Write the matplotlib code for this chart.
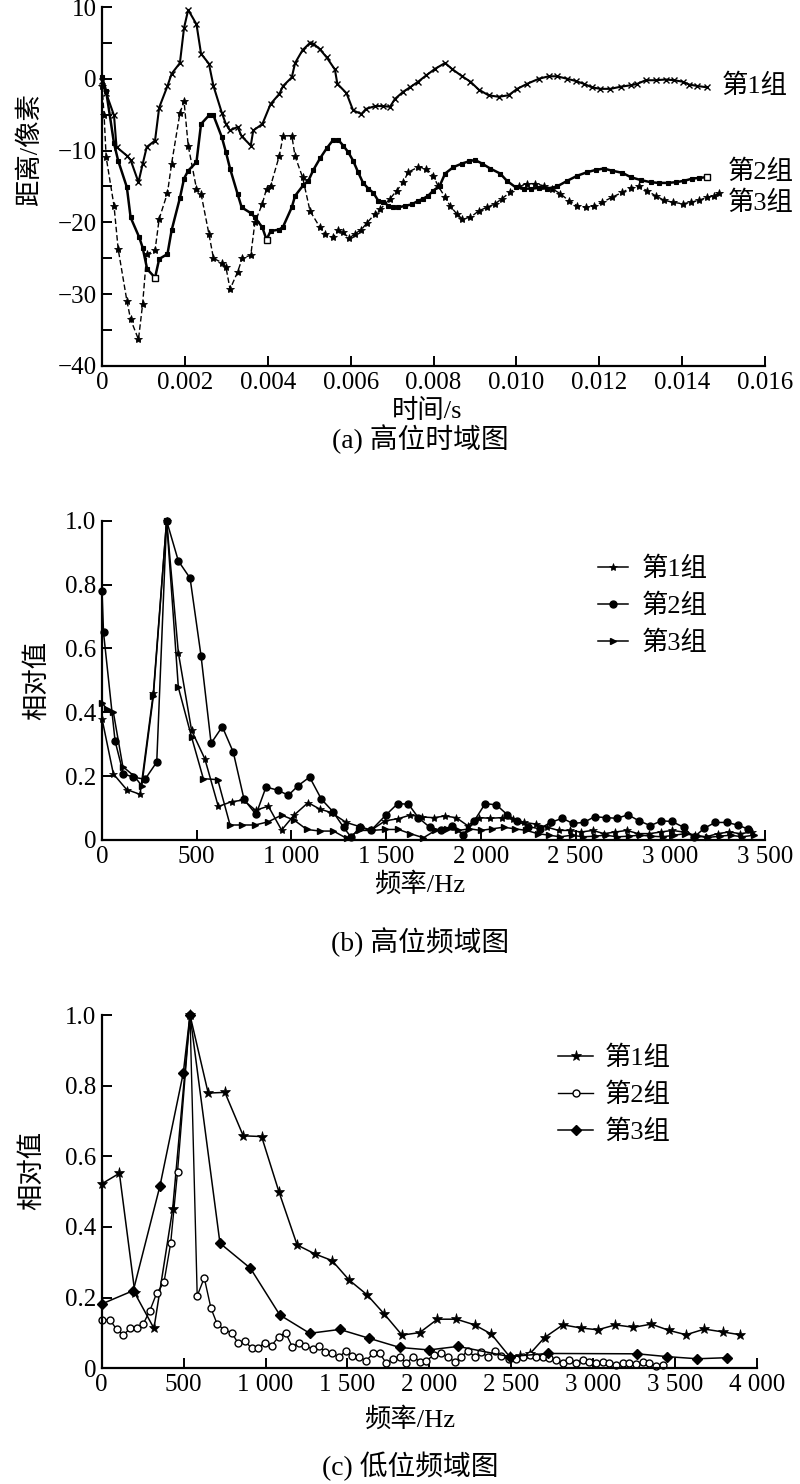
import numpy as np
import matplotlib
matplotlib.use("Agg")
import matplotlib.pyplot as plt
from matplotlib.ticker import FixedLocator, FixedFormatter

plt.rcParams['font.family'] = ['Liberation Serif', 'Noto Sans CJK SC']
plt.rcParams['axes.unicode_minus'] = True

# -----------------------------
# (a) time domain, high position  (t in ms, value in pixels)
# -----------------------------
a1_t = [0, 0.1, 0.29, 0.35, 0.6, 0.69, 0.88, 0.98, 1.08, 1.28,
        1.38, 1.58, 1.68, 1.88, 1.98, 2.08, 2.28, 2.39, 2.58, 2.69,
        2.89, 2.99, 3.09, 3.27, 3.37, 3.59, 3.65, 3.87, 4.07, 4.28,
        4.37, 4.58, 4.66, 4.84, 5.02, 5.10, 5.26, 5.42, 5.62, 5.68,
        5.90, 6.06, 6.26, 6.37, 6.59, 6.79, 6.95, 7.07, 7.27, 7.43,
        7.63, 7.83, 8.04, 8.28, 8.44, 8.69, 8.89, 9.09, 9.33, 9.57,
        9.81, 10.02, 10.26, 10.54, 10.78, 10.98, 11.23, 11.43, 11.63, 11.83,
        12.03, 12.27, 12.52, 12.76, 12.92, 13.12, 13.36, 13.60, 13.81, 14.01,
        14.17, 14.37, 14.61]
a1_v = [-0.3, -2.0, -5.1, -9.5, -10.7, -11.3, -14.4, -11.9, -9.5, -8.6,
        -4.0, -1.0, 0.7, 2.2, 7.1, 9.6, 7.6, 3.5, 2.1, -1.0,
        -4.7, -6.3, -7.2, -6.7, -8.0, -9.3, -7.2, -6.3, -3.5, -2.1,
        -1.0, 0.2, 2.2, 4.0, 5.0, 4.9, 4.1, 3.0, 1.3, -0.7,
        -2.0, -4.4, -4.9, -4.2, -3.8, -3.8, -3.9, -2.8, -1.8, -1.2,
        -0.4, 0.5, 1.4, 2.2, 1.4, 0.35, -0.4, -1.5, -2.3, -2.5,
        -2.3, -1.4, -0.7, 0.0, 0.35, 0.35, 0.0, -0.3, -0.7, -1.2,
        -1.4, -1.4, -1.1, -0.9, -0.7, -0.2, -0.2, -0.1, -0.2, -0.4,
        -0.8, -1.0, -1.2]

a2_t = [0, 0.1, 0.29, 0.39, 0.6, 0.69, 0.9, 0.98, 1.09, 1.28,
        1.38, 1.58, 1.68, 1.88, 1.98, 2.08, 2.28, 2.39, 2.58, 2.69,
        2.89, 2.99, 3.09, 3.27, 3.37, 3.59, 3.69, 3.87, 3.97, 4.07,
        4.28, 4.37, 4.58, 4.66, 4.86, 4.98, 5.10, 5.26, 5.42, 5.58,
        5.70, 5.82, 5.94, 6.06, 6.18, 6.30, 6.43, 6.55, 6.67, 6.79,
        6.91, 7.03, 7.15, 7.31, 7.47, 7.63, 7.75, 7.87, 7.99, 8.15,
        8.28, 8.48, 8.69, 8.85, 9.0, 9.17, 9.37, 9.61, 9.77, 9.98,
        10.18, 10.36, 10.54, 10.74, 10.98, 11.23, 11.47, 11.71, 11.91, 12.11,
        12.31, 12.56, 12.76, 13.0, 13.24, 13.44, 13.65, 13.85, 14.05, 14.25,
        14.41, 14.6]
a2_v = [0.3, -1.7, -9.0, -11.4, -15.1, -19.3, -22.1, -23.5, -26.5, -27.7,
        -25.1, -24.4, -21.1, -16.6, -13.9, -12.8, -11.6, -6.3, -5.1, -5.1,
        -8.1, -10.2, -12.5, -16.0, -17.9, -18.7, -19.3, -20.7, -22.4, -21.2,
        -21.0, -20.6, -17.9, -16.3, -14.8, -14.2, -12.7, -11.1, -9.7, -8.5,
        -8.5, -9.3, -10.2, -11.4, -13.0, -14.5, -15.3, -15.9, -17.0, -17.1,
        -17.7, -17.9, -17.9, -17.7, -17.5, -17.0, -16.7, -16.3, -15.6, -14.9,
        -13.2, -12.3, -11.8, -11.5, -11.3, -11.8, -12.5, -13.2, -14.2, -15.1,
        -15.3, -15.3, -15.2, -15.3, -15.0, -14.2, -13.5, -13.0, -12.7, -12.5,
        -12.8, -13.1, -13.7, -14.1, -14.4, -14.5, -14.5, -14.4, -14.2, -13.9,
        -13.8, -13.7]
a2_open = [9, 28, 91]   # points drawn as open squares

a3_t = [0, 0.05, 0.1, 0.29, 0.39, 0.6, 0.69, 0.88, 0.98, 1.08,
        1.28, 1.38, 1.58, 1.68, 1.88, 1.98, 2.08, 2.28, 2.39, 2.58,
        2.69, 2.89, 2.99, 3.09, 3.27, 3.39, 3.59, 3.69, 3.87, 3.97,
        4.07, 4.28, 4.37, 4.58, 4.66, 4.84, 5.02, 5.26, 5.38, 5.58,
        5.70, 5.82, 5.97, 6.10, 6.26, 6.39, 6.59, 6.71, 6.95, 7.11,
        7.27, 7.39, 7.63, 7.83, 7.99, 8.11, 8.28, 8.40, 8.56, 8.69,
        8.89, 9.09, 9.29, 9.49, 9.65, 9.85, 10.06, 10.26, 10.46, 10.66,
        10.86, 11.06, 11.27, 11.47, 11.67, 11.87, 12.07, 12.31, 12.56, 12.76,
        12.96, 13.16, 13.36, 13.56, 13.77, 14.01, 14.21, 14.41, 14.61, 14.77,
        14.9]
a3_v = [-1.0, -5.0, -10.9, -17.7, -23.7, -30.9, -33.5, -36.3, -31.4, -24.4,
        -23.9, -19.5, -15.9, -11.8, -4.8, -3.1, -9.3, -15.3, -16.0, -21.6,
        -25.0, -25.6, -26.2, -29.3, -26.95, -24.9, -24.6, -20.0, -17.4, -15.3,
        -14.9, -10.7, -8.0, -7.9, -10.8, -13.7, -18.4, -20.7, -21.6, -22.1,
        -21.1, -21.4, -22.2, -21.6, -21.0, -20.1, -18.8, -18.2, -16.7, -15.6,
        -14.4, -13.0, -12.3, -12.5, -13.5, -14.9, -16.5, -17.7, -18.8, -19.5,
        -19.3, -18.4, -17.9, -17.4, -16.7, -15.8, -14.9, -14.6, -14.6, -14.9,
        -15.3, -16.0, -17.0, -17.7, -17.9, -17.7, -17.2, -16.5, -15.8, -15.2,
        -15.0, -15.6, -16.3, -16.9, -17.2, -17.4, -17.2, -16.9, -16.5, -16.3,
        -15.9]

a_xticks = [0, 0.002, 0.004, 0.006, 0.008, 0.010, 0.012, 0.014, 0.016]
a_xlabels = ["0", "0.002", "0.004", "0.006", "0.008", "0.010", "0.012", "0.014", "0.016"]
a_yticks = [-40, -30, -20, -10, 0, 10]
a_ylabels = ["\u221240", "\u221230", "\u221220", "\u221210", "0", "10"]

# -----------------------------
# (b) frequency domain, high position
# -----------------------------
b1_f = [0, 60, 130, 201, 271, 341, 403, 473, 543, 614,
        684, 746, 811, 878, 948, 1014, 1088, 1149, 1210, 1289,
        1360, 1421, 1495, 1565, 1627, 1690, 1750, 1810, 1870, 1930,
        1990, 2050, 2110, 2170, 2230, 2290, 2350, 2410, 2470, 2530,
        2590, 2650, 2710, 2770, 2830, 2890, 2950, 3010, 3070, 3130,
        3190, 3250, 3310, 3370, 3430]
b1_v = [0.38, 0.207, 0.158, 0.143, 0.46, 1.0, 0.587, 0.343, 0.254, 0.105,
        0.12, 0.125, 0.093, 0.106, 0.031, 0.078, 0.117, 0.097, 0.086, 0.055,
        0.042, 0.031, 0.06, 0.067, 0.078, 0.072, 0.07, 0.075, 0.07, 0.045,
        0.07, 0.068, 0.07, 0.065, 0.055, 0.05, 0.04, 0.03, 0.03, 0.025,
        0.03, 0.02, 0.025, 0.03, 0.02, 0.02, 0.025, 0.03, 0.025, 0.015,
        0.01, 0.02, 0.025, 0.02, 0.025]

b2_f = [0, 8, 69, 113, 166, 227, 289, 341, 403, 465,
        523, 576, 635, 693, 750, 813, 866, 928, 984, 1035,
        1096, 1158, 1219, 1275, 1316, 1360, 1420, 1500, 1561, 1618,
        1670, 1730, 1790, 1850, 1905, 1965, 2023, 2082, 2140, 2190,
        2250, 2310, 2368, 2430, 2485, 2544, 2600, 2661, 2719, 2777,
        2835, 2895, 2953, 3009, 3070, 3123, 3180, 3237, 3298, 3355,
        3412]
b2_v = [0.78, 0.65, 0.31, 0.207, 0.197, 0.19, 0.244, 1.0, 0.874, 0.82,
        0.576, 0.303, 0.355, 0.275, 0.127, 0.08, 0.166, 0.156, 0.14, 0.17,
        0.197, 0.128, 0.089, 0.04, 0.008, 0.04, 0.03, 0.079, 0.114, 0.112,
        0.07, 0.04, 0.03, 0.045, 0.016, 0.06, 0.114, 0.11, 0.079, 0.06,
        0.042, 0.035, 0.055, 0.068, 0.052, 0.055, 0.073, 0.07, 0.068, 0.079,
        0.06, 0.045, 0.06, 0.058, 0.04, 0.008, 0.037, 0.055, 0.055, 0.047,
        0.034]

b3_f = [0, 25, 60, 110, 170, 210, 271, 341, 403, 473,
        535, 611, 676, 737, 808, 878, 948, 1015, 1081, 1151,
        1222, 1292, 1359, 1424, 1495, 1565, 1627, 1697, 1760, 1820,
        1880, 1940, 2000, 2060, 2120, 2180, 2240, 2300, 2360, 2420,
        2480, 2540, 2600, 2660, 2720, 2780, 2840, 2900, 2960, 3020,
        3080, 3140, 3200, 3260, 3320, 3380, 3440]
b3_v = [0.43, 0.41, 0.40, 0.23, 0.20, 0.17, 0.45, 1.0, 0.478, 0.322,
        0.192, 0.189, 0.047, 0.047, 0.047, 0.057, 0.078, 0.062, 0.033, 0.028,
        0.028, 0.005, 0.03, 0.03, 0.033, 0.033, 0.02, 0.007, 0.03, 0.035,
        0.03, 0.035, 0.03, 0.035, 0.04, 0.035, 0.03, 0.02, 0.015, 0.01,
        0.015, 0.01, 0.012, 0.015, 0.01, 0.012, 0.015, 0.012, 0.01, 0.015,
        0.02, 0.012, 0.008, 0.012, 0.015, 0.01, 0.015]

b_xticks = [0, 500, 1000, 1500, 2000, 2500, 3000, 3500]
b_xlabels = ["0", "500", "1 000", "1 500", "2 000", "2 500", "3 000", "3 500"]

# -----------------------------
# (c) frequency domain, low position
# -----------------------------
c1_f = [0, 108, 203, 319, 433, 539, 650, 752, 864, 976,
        1083, 1193, 1305, 1406, 1510, 1620, 1724, 1833, 1941, 2049,
        2165, 2276, 2378, 2490, 2551, 2612, 2703, 2815, 2927, 3028,
        3136, 3246, 3354, 3465, 3567, 3679, 3790, 3896]
c1_v = [0.522, 0.552, 0.212, 0.113, 0.45, 1.0, 0.779, 0.781, 0.658, 0.656,
        0.498, 0.349, 0.323, 0.305, 0.25, 0.208, 0.154, 0.094, 0.101, 0.139,
        0.139, 0.123, 0.097, 0.033, 0.035, 0.04, 0.087, 0.123, 0.114, 0.109,
        0.123, 0.116, 0.125, 0.107, 0.095, 0.111, 0.103, 0.095]

c2_f = [0, 51, 91, 132, 173, 213, 254, 294, 335, 380,
        421, 463, 539, 583, 626, 667, 705, 748, 793, 833,
        876, 915, 955, 996, 1037, 1081, 1122, 1163, 1203, 1244,
        1287, 1327, 1366, 1406, 1449, 1490, 1530, 1571, 1616, 1656,
        1697, 1738, 1778, 1819, 1860, 1900, 1941, 1982, 2031, 2072,
        2113, 2154, 2194, 2235, 2276, 2316, 2357, 2398, 2438, 2489,
        2530, 2571, 2612, 2652, 2693, 2733, 2774, 2815, 2855, 2896,
        2937, 2977, 3018, 3059, 3099, 3140, 3180, 3221, 3262, 3302,
        3343, 3384, 3424]
c2_v = [0.137, 0.137, 0.11, 0.094, 0.113, 0.115, 0.126, 0.163, 0.212, 0.243,
        0.354, 0.557, 1.0, 0.205, 0.256, 0.17, 0.125, 0.109, 0.101, 0.071,
        0.076, 0.057, 0.057, 0.073, 0.064, 0.09, 0.101, 0.061, 0.071, 0.063,
        0.055, 0.064, 0.045, 0.042, 0.031, 0.05, 0.036, 0.031, 0.022, 0.042,
        0.042, 0.014, 0.026, 0.033, 0.014, 0.033, 0.019, 0.022, 0.038, 0.044,
        0.031, 0.019, 0.031, 0.05, 0.033, 0.047, 0.031, 0.05, 0.035, 0.025,
        0.025, 0.031, 0.038, 0.031, 0.031, 0.028, 0.024, 0.014, 0.024, 0.016,
        0.024, 0.019, 0.014, 0.019, 0.014, 0.009, 0.016, 0.014, 0.012, 0.019,
        0.014, 0.007, 0.009]

c3_f = [0, 193, 356, 498, 539, 722, 908, 1087, 1270, 1453,
        1632, 1819, 1998, 2175, 2490, 2722, 3270, 3453, 3636, 3815]
c3_v = [0.182, 0.22, 0.517, 0.836, 1.0, 0.354, 0.283, 0.151, 0.099, 0.11,
        0.085, 0.059, 0.052, 0.062, 0.033, 0.042, 0.041, 0.033, 0.027, 0.03]

c_xticks = [0, 500, 1000, 1500, 2000, 2500, 3000, 3500, 4000]
c_xlabels = ["0", "500", "1 000", "1 500", "2 000", "2 500", "3 000", "3 500", "4 000"]

rel_yticks = [0, 0.2, 0.4, 0.6, 0.8, 1.0]
rel_ylabels = ["0", "0.2", "0.4", "0.6", "0.8", "1.0"]

group_names = ["第1组", "第2组", "第3组"]

# -----------------------------
# figure / layout helpers (pixel -> figure fraction)
# -----------------------------
W, H = 800, 1484
fig = plt.figure(figsize=(W / 100, H / 100), dpi=100)


def add_axes_px(x0, x1, y_top, y_bot):
    return fig.add_axes([x0 / W, 1 - y_bot / H, (x1 - x0) / W, (y_bot - y_top) / H])


def ftext(x, y, s, **kw):
    fig.text(x / W, 1 - y / H, s, **kw)


TICK_FS = 18
LAB_FS = 19
CAP_FS = 20


def style_axes(ax):
    for side in ("top", "right"):
        ax.spines[side].set_visible(False)
    for side in ("left", "bottom"):
        ax.spines[side].set_linewidth(1.6)
    ax.tick_params(which="both", direction="in", length=7, width=1.4,
                   labelsize=TICK_FS, pad=4)


# -----------------------------
# (a)
# -----------------------------
ax = add_axes_px(102, 765, 7, 366)
style_axes(ax)
ta1 = np.array(a1_t) / 1000
ta2 = np.array(a2_t) / 1000
ta3 = np.array(a3_t) / 1000
ax.plot(ta1, a1_v, color="k", lw=1.5, marker="x", ms=4, mew=1.0, clip_on=False)
ax.plot(ta2, a2_v, color="k", lw=1.8, marker="s", ms=3.5, mew=0.8, clip_on=False)
ax.plot(ta2[a2_open], np.array(a2_v)[a2_open], ls="none", marker="s", ms=4.5,
        mfc="white", mec="k", mew=1.0, clip_on=False)
ax.plot(ta3, a3_v, color="k", lw=1.0, ls=(0, (4, 2)), marker="*", ms=6, mew=0.6,
        clip_on=False)
ax.set_xlim(0, 0.016)
ax.set_ylim(-40, 10)
ax.xaxis.set_major_locator(FixedLocator(a_xticks))
ax.xaxis.set_major_formatter(FixedFormatter(a_xlabels))
ax.yaxis.set_major_locator(FixedLocator(a_yticks))
ax.yaxis.set_major_formatter(FixedFormatter(a_ylabels))
ax.yaxis.set_minor_locator(FixedLocator([-35, -25, -15, -5, 5]))

ftext(722, 86, group_names[0], fontsize=LAB_FS, va="center", ha="left")
ftext(728, 172, group_names[1], fontsize=LAB_FS, va="center", ha="left")
ftext(728, 203, group_names[2], fontsize=LAB_FS, va="center", ha="left")

ftext(30, 150, "距离/像素", fontsize=LAB_FS, rotation=90, va="center", ha="center")
ftext(427, 411, "时间/s", fontsize=LAB_FS, va="center", ha="center")
ftext(420, 439, "(a) 高位时域图", fontsize=CAP_FS, va="center", ha="center")

# -----------------------------
# (b)
# -----------------------------
ax = add_axes_px(102, 765, 520.7, 840)
style_axes(ax)
ax.plot(b1_f, b1_v, color="k", lw=1.1, marker="*", ms=6, mew=0.5,
        label=group_names[0], clip_on=False)
ax.plot(b2_f, b2_v, color="k", lw=1.1, marker="o", ms=5,
        label=group_names[1], clip_on=False)
ax.plot(b3_f, b3_v, color="k", lw=1.1, marker=">", ms=5,
        label=group_names[2], clip_on=False)
ax.set_xlim(0, 3500)
ax.set_ylim(0, 1.0)
ax.xaxis.set_major_locator(FixedLocator(b_xticks))
ax.xaxis.set_major_formatter(FixedFormatter(b_xlabels))
ax.yaxis.set_major_locator(FixedLocator(rel_yticks))
ax.yaxis.set_major_formatter(FixedFormatter(rel_ylabels))
ax.legend(loc="upper left", bbox_to_anchor=(598 / W, 1 - 557 / H),
          bbox_transform=fig.transFigure, frameon=False, fontsize=LAB_FS,
          handlelength=1.15, handletextpad=0.5, labelspacing=0.47,
          borderpad=0, borderaxespad=0)

ftext(37, 680, "相对值", fontsize=LAB_FS, rotation=90, va="center", ha="center")
ftext(420, 885, "频率/Hz", fontsize=LAB_FS, va="center", ha="center")
ftext(420, 942, "(b) 高位频域图", fontsize=CAP_FS, va="center", ha="center")

# -----------------------------
# (c)
# -----------------------------
ax = add_axes_px(101.7, 757, 1015, 1368.3)
style_axes(ax)
ax.plot(c1_f, c1_v, color="k", lw=1.1, marker="*", ms=8, mew=0.5,
        label=group_names[0], clip_on=False)
ax.plot(c2_f, c2_v, color="k", lw=1.0, marker="o", ms=5, mfc="white", mew=1.0,
        label=group_names[1], clip_on=False)
ax.plot(c3_f, c3_v, color="k", lw=1.1, marker="D", ms=5,
        label=group_names[2], clip_on=False)
ax.set_xlim(0, 4000)
ax.set_ylim(0, 1.0)
ax.xaxis.set_major_locator(FixedLocator(c_xticks))
ax.xaxis.set_major_formatter(FixedFormatter(c_xlabels))
ax.yaxis.set_major_locator(FixedLocator(rel_yticks))
ax.yaxis.set_major_formatter(FixedFormatter(rel_ylabels))
ax.legend(loc="upper left", bbox_to_anchor=(558 / W, 1 - 1046 / H),
          bbox_transform=fig.transFigure, frameon=False, fontsize=LAB_FS,
          handlelength=1.33, handletextpad=0.45, labelspacing=0.47,
          borderpad=0, borderaxespad=0)

ftext(32, 1170, "相对值", fontsize=LAB_FS, rotation=90, va="center", ha="center")
ftext(410, 1420, "频率/Hz", fontsize=LAB_FS, va="center", ha="center")
ftext(410, 1466, "(c) 低位频域图", fontsize=CAP_FS, va="center", ha="center")

fig.savefig("out.png", dpi=100)
